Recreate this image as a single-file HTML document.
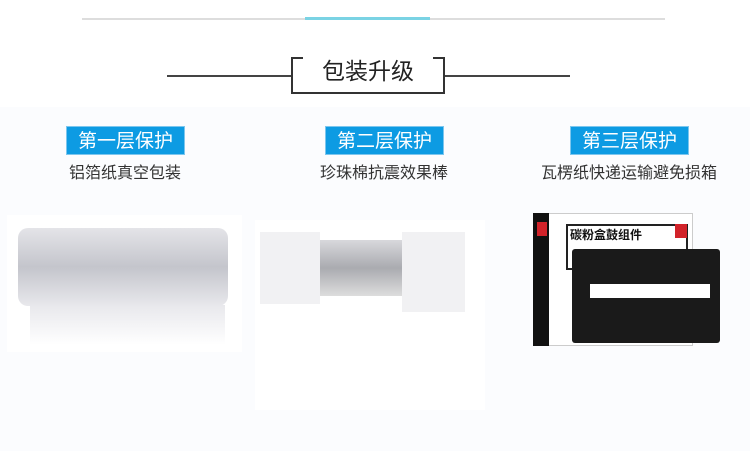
<!DOCTYPE html>
<html><head><meta charset="utf-8"><style>
*{margin:0;padding:0;box-sizing:border-box}
body{width:750px;height:451px;background:#fbfcfe;position:relative;overflow:hidden;font-family:"Liberation Sans","Noto Sans CJK SC",sans-serif}
.a{position:absolute}
.tag{position:absolute;top:126px;width:119px;height:29px;background:#0d9be3;color:#fff;font-size:19px;text-align:center;line-height:29px;border:1px solid #7cc6ee}
.sub{position:absolute;top:159px;font-size:16px;color:#333;text-align:center;width:200px}
</style></head><body>
<div class="a" style="left:0;top:0;width:750px;height:107px;background:#fff"></div>
<div class="a" style="left:82px;top:18px;width:583px;height:2px;background:#ddd"></div>
<div class="a" style="left:305px;top:17px;width:125px;height:3px;background:#7ad3e4"></div>
<div class="a" style="left:167px;top:75px;width:124px;height:2px;background:#444"></div>
<div class="a" style="left:445px;top:75px;width:125px;height:2px;background:#444"></div>
<div class="a" style="left:291px;top:57px;width:154px;height:37px;border:2px solid #333;border-top:none"></div>
<div class="a" style="left:291px;top:57px;width:12px;height:2px;background:#333"></div>
<div class="a" style="left:433px;top:57px;width:12px;height:2px;background:#333"></div>
<div class="a" style="left:291px;top:52px;width:154px;text-align:center;font-size:23px;color:#222">包装升级</div>
<div class="tag" style="left:66px">第一层保护</div>
<div class="tag" style="left:325px">第二层保护</div>
<div class="tag" style="left:570px">第三层保护</div>
<div class="sub" style="left:25px">铝箔纸真空包装</div>
<div class="sub" style="left:284px">珍珠棉抗震效果棒</div>
<div class="sub" style="left:529px">瓦楞纸快递运输避免损箱</div>
<div class="a" style="left:7px;top:215px;width:235px;height:137px;background:#fff"></div>
<div class="a" style="left:18px;top:228px;width:210px;height:78px;background:linear-gradient(180deg,#e4e4e8,#c4c5cc 50%,#e8e8ec);border-radius:10px"></div>
<div class="a" style="left:30px;top:305px;width:195px;height:40px;background:linear-gradient(180deg,#e8e8ec,#fff)"></div>
<div class="a" style="left:255px;top:220px;width:230px;height:190px;background:#fff"></div>
<div class="a" style="left:292px;top:240px;width:110px;height:56px;background:linear-gradient(180deg,#d8d8dc,#aaabb0 50%,#ddd)"></div>
<div class="a" style="left:260px;top:232px;width:60px;height:72px;background:#f1f1f3"></div>
<div class="a" style="left:402px;top:232px;width:63px;height:80px;background:#f1f1f3"></div>
<div class="a" style="left:533px;top:213px;width:160px;height:133px;background:#fff;border:1px solid #ccc"></div>
<div class="a" style="left:533px;top:213px;width:16px;height:133px;background:#111"></div>
<div class="a" style="left:566px;top:224px;width:122px;height:46px;background:#fff;border:2px solid #222"></div>
<div class="a" style="left:570px;top:226px;font-size:12px;font-weight:bold;color:#111">碳粉盒鼓组件</div>
<div class="a" style="left:675px;top:224px;width:12px;height:14px;background:#d2232a"></div>
<div class="a" style="left:537px;top:222px;width:10px;height:14px;background:#d2232a"></div>
<div class="a" style="left:572px;top:249px;width:148px;height:94px;background:#1a1a1a;border-radius:3px"></div>
<div class="a" style="left:590px;top:284px;width:120px;height:14px;background:#fff"></div>
</body></html>
